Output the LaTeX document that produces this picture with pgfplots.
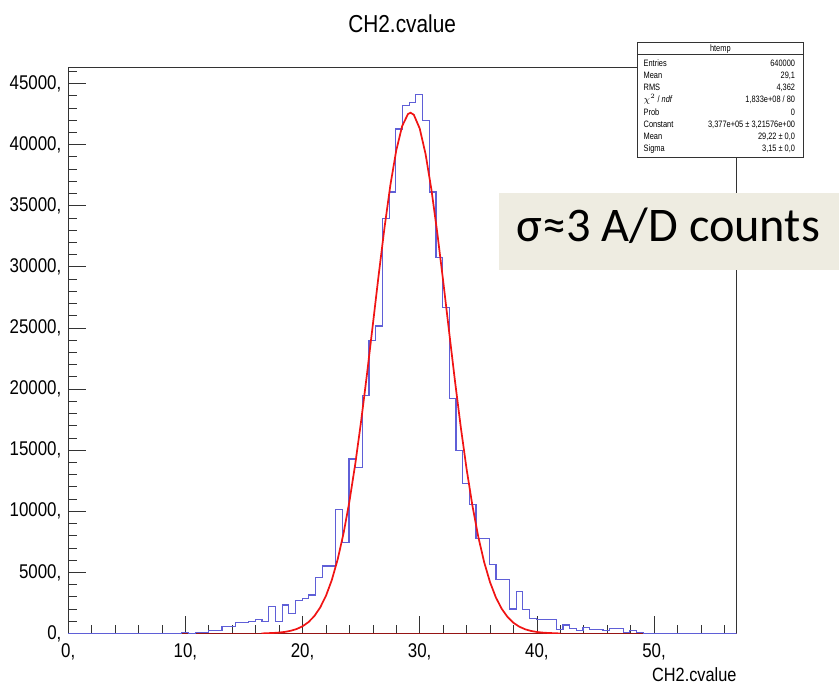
\documentclass[border=0pt]{standalone}
\usepackage{fontspec}
\usepackage{pgfplots}
\pgfplotsset{compat=1.18}
\setmainfont{Liberation Sans}
\newfontfamily\rootfont[FakeStretch=0.85]{Liberation Sans}
\newfontfamily\statfont[FakeStretch=0.8]{Liberation Sans}
\newfontfamily\calib{Carlito}
\definecolor{histblue}{RGB}{95,95,215}
\definecolor{fitred}{RGB}{240,20,20}
\definecolor{darkfit}{RGB}{150,20,20}
\definecolor{notebg}{RGB}{238,236,225}
\begin{document}
\begin{tikzpicture}
\begin{scope}[x=0.75pt,y=0.75pt]
\useasboundingbox (0,0) rectangle (839,691);
\end{scope}
\begin{axis}[
  at={(51.525pt,39.75pt)}, anchor=south west,
  scale only axis, width=504.975pt, height=427.5pt,
  xmin=0, xmax=57.06, ymin=0, ymax=46300,
  axis line style={black!80, line width=0.6pt},
  tick align=inside, tick pos=left,
  major tick length=13.5pt, minor tick length=6.75pt,
  every tick/.style={black!80, line width=0.5pt},
  xtick={0,10,20,30,40,50},
  xticklabels={{0,},{10,},{20,},{30,},{40,},{50,}},
  minor xtick={2,4,6,8,12,14,16,18,22,24,26,28,32,34,36,38,42,44,46,48,52,54,56},
  ytick={0,5000,10000,15000,20000,25000,30000,35000,40000,45000},
  yticklabels={{0,},{5000,},{10000,},{15000,},{20000,},{25000,},{30000,},{35000,},{40000,},{45000,}},
  minor ytick={1000,2000,3000,4000,6000,7000,8000,9000,11000,12000,13000,14000,16000,17000,18000,19000,21000,22000,23000,24000,26000,27000,28000,29000,31000,32000,33000,34000,36000,37000,38000,39000,41000,42000,43000,44000,46000},
  tick label style={font=\rootfont\fontsize{15}{15}\selectfont, text=black},
  yticklabel style={inner sep=0pt, xshift=-5pt},
  xticklabel style={inner sep=0pt, yshift=-7.5pt},
  scaled y ticks=false,
  clip=true,
]
\addplot[darkfit, line width=1.3pt] coordinates {(0,0) (57.06,0)};
\addplot[const plot, draw=histblue, line width=0.9pt] coordinates {
(0,0) (9.700,60) (10.271,20) (10.841,100) (11.412,100) (11.983,220) (12.553,220)
(13.124,600) (13.694,600) (14.265,870) (14.836,870) (15.406,975) (15.977,1140)
(16.547,975) (17.118,2190) (17.689,975) (18.259,2330) (18.830,1650) (19.400,2720)
(19.971,2860) (20.542,3140) (21.112,4570) (21.683,5520) (22.253,5520) (22.824,10150)
(23.395,7470) (23.965,14270) (24.536,13590) (25.106,19470) (25.677,23990) (26.248,25160)
(26.818,33960) (27.389,36120) (27.959,41270) (28.530,43160) (29.101,43440) (29.671,44110)
(30.242,41940) (30.812,36120) (31.383,30760) (31.954,26640) (32.524,19200) (33.095,14980)
(33.665,12290) (34.236,10540) (34.807,7740) (35.377,7740) (35.948,5660) (36.518,4440)
(37.089,4440) (37.660,2000) (38.230,3410) (38.801,1950) (39.371,1240) (39.942,1140)
(40.513,1140) (41.083,1140) (41.654,325) (42.224,700) (42.795,430) (43.366,220)
(43.936,510) (44.507,325) (45.077,325) (45.648,220) (46.219,430) (46.789,430)
(47.360,60) (47.930,220) (48.501,100) (49.072,0) (57.06,0)
};
\addplot[fitred, line width=1.3pt] coordinates {
(16.5,0) (17,23) (17.5,42) (18,75) (18.5,130) (19,221) (19.5,365) (20,588) (20.5,923)
(21,1414) (21.5,2115) (22,3080) (22.5,4376) (23,6066) (23.5,8193) (24,10791)
(24.5,13862) (25,17363) (25.5,21211) (26,25262) (26.5,29343) (27,33232) (27.5,36700)
(28,39520) (28.5,41501) (29,42496) (29.22,42600) (29.5,42432) (30,41313) (30.5,39226)
(31,36312) (31.5,32781) (32,28857) (32.5,24772) (33,20738) (33.5,16925) (34,13470)
(34.5,10454) (35,7911) (35.5,5840) (36,4202) (36.5,2948) (37,2017) (37.5,1346)
(38,876) (38.5,556) (39,344) (39.5,207) (40,122) (40.5,70) (41,39) (41.5,21) (42,0)
};
\end{axis}
\begin{scope}[x=0.75pt,y=0.75pt]
% title and axis label
\node[anchor=base, inner sep=0pt, font=\rootfont\fontsize{18.5}{18.5}\selectfont] at (405,658) {CH2.cvalue};
\node[anchor=base east, inner sep=0pt, font=\rootfont\fontsize{14.5}{14.5}\selectfont] at (742,5) {CH2.cvalue};
% stats box
\filldraw[fill=white, draw=black!80, line width=0.5pt] (642,648) rectangle (809,533);
\draw[black!80, line width=0.5pt] (642,636) -- (809,636);
\begin{scope}[every node/.style={inner sep=0pt, font=\statfont\fontsize{7}{7}\selectfont}]
\node[anchor=center] at (725.5,642) {htemp};
\node[anchor=mid west] at (648,627.7) {Entries};
\node[anchor=mid east] at (801,627.7) {640000};
\node[anchor=mid west] at (648,615.4) {Mean};
\node[anchor=mid east] at (801,615.4) {29,1};
\node[anchor=mid west] at (648,603.1) {RMS};
\node[anchor=mid east] at (801,603.1) {4,362};
\node[anchor=mid west] at (648,590.8) {$\chi^{2}$ / \textit{ndf}};
\node[anchor=mid east] at (801,590.8) {1,833e+08 / 80};
\node[anchor=mid west] at (648,578.5) {Prob};
\node[anchor=mid east] at (801,578.5) {0};
\node[anchor=mid west] at (648,566.2) {Constant};
\node[anchor=mid east] at (801,566.2) {3,377e+05 ± 3,21576e+00};
\node[anchor=mid west] at (648,553.9) {Mean};
\node[anchor=mid east] at (801,553.9) {29,22 ± 0,0};
\node[anchor=mid west] at (648,541.6) {Sigma};
\node[anchor=mid east] at (801,541.6) {3,15 ± 0,0};
\end{scope}
% annotation
\fill[notebg] (502.7,497) rectangle (845,419.3);
\node[anchor=base, inner sep=0pt, font=\calib\fontsize{36.5}{36.5}\selectfont] at (673,448) {σ≈3 A/D counts};
\end{scope}
\end{tikzpicture}
\end{document}
